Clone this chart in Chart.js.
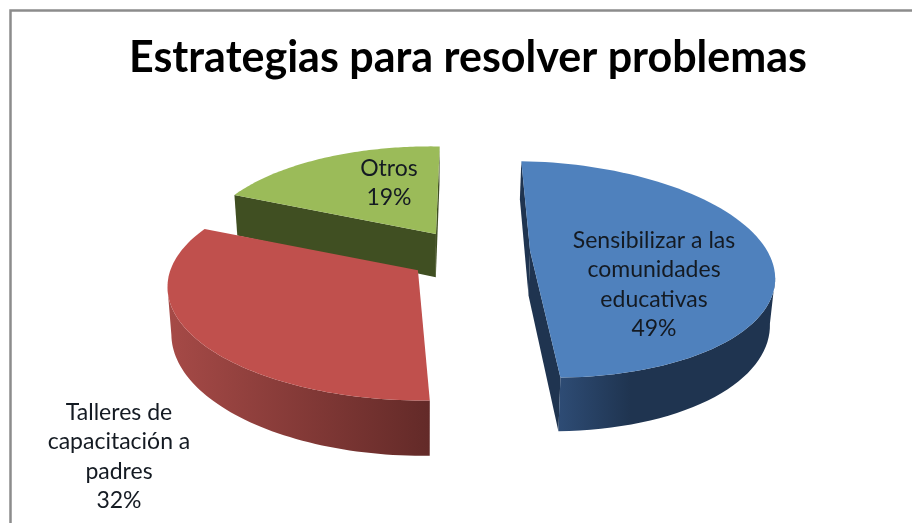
<!DOCTYPE html>
<html>
<head>
<meta charset="utf-8">
<style>
  html, body { margin: 0; background: #fff; }
  canvas { display: block; }
</style>
<script src="https://cdn.jsdelivr.net/npm/chart.js@4"></script>
</head>
<body>
<canvas id="pie-chart" width="912" height="523"></canvas>
<script>
const chartTitle = "Estrategias para resolver problemas";
const categories = [
  ["Sensibilizar a las", "comunidades", "educativas"],
  ["Talleres de", "capacitación a", "padres"],
  ["Otros"]
];
const values = [49, 32, 19];
const topColors = ["#4f81bd", "#c0504d", "#9bbb59"];
const sideColors = [
  ["#2e4c75", "#1f3450", "#1f3450", "#1f3450"],
  ["#a64a47", "#632a28"],
  ["#404f22", "#404f22"]
];
const labelCenters = [[654, 248], [119, 420], [389, 176]];

// slice placement on the ground plane, in pie radii
const sliceShift = [[0.29, 0], [-0.167, 0.17], [-0.093, -0.16]];
const sliceWidth = [0.968, 0.98, 0.98];
const sliceDepth = [0.96, 0.93, 0.99];
const sliceSkew = [0.01, 0.025, 0.015];

// camera of the fake 3d view
const view = { x: 425, y: 251, a: 245, d: 109.5, p: 0.177, shiftX: 0.139, height: 44.5, shrink: 0.985 };

function project(x, z) {
  const s = 1 / (1 - view.p * z);
  return { x: view.x + view.a * x * s, y: view.y + view.d * z * s, s: s };
}

function under(pt) {
  return { x: view.x + (pt.x - view.x) * view.shrink, y: pt.y + view.height * pt.s };
}

function fillPath(ctx, pts, fill) {
  ctx.beginPath();
  pts.forEach((pt, i) => i ? ctx.lineTo(pt.x, pt.y) : ctx.moveTo(pt.x, pt.y));
  ctx.closePath();
  ctx.fillStyle = fill;
  ctx.fill();
}

function sideFill(ctx, pts, stops) {
  const xs = pts.map(pt => pt.x);
  const g = ctx.createLinearGradient(Math.min(...xs), 0, Math.max(...xs), 0);
  stops.forEach((c, n) => g.addColorStop(n / (stops.length - 1), c));
  return g;
}

function drawSlice(ctx, arc, i) {
  const props = arc.getProps(["startAngle", "endAngle"], true);
  const cx = view.shiftX + sliceShift[i][0];
  const cz = sliceShift[i][1];
  const apex = project(cx, cz);

  const rim = [];
  for (let n = 0; n <= 80; n++) {
    const t = props.startAngle + (props.endAngle - props.startAngle) * n / 80;
    const w = sliceWidth[i] * Math.cos(t);
    const h = sliceDepth[i] * Math.sin(t);
    rim.push(project(cx + w + sliceSkew[i] * h, cz + h));
  }

  // radial walls, only when they face the viewer
  const last = rim[rim.length - 1];
  [[apex, rim[0]], [last, apex]].forEach(edge => {
    if (edge[1].x < edge[0].x) {
      const wall = [edge[0], edge[1], under(edge[1]), under(edge[0])];
      fillPath(ctx, wall, sideColors[i][sideColors[i].length - 1]);
    }
  });

  // outer wall
  const front = rim.filter((pt, n) => (n > 0 && pt.x < rim[n - 1].x) || (n < 80 && rim[n + 1].x < pt.x));
  if (front.length > 1) {
    const wall = front.concat(front.map(under).reverse());
    fillPath(ctx, wall, sideFill(ctx, wall, sideColors[i]));
  }

  fillPath(ctx, [apex].concat(rim), topColors[i]);
}

const pie3d = {
  id: "pie3d",
  beforeDraw(chart) {
    // frame of the chart area, cut by the picture on the right and bottom
    const ctx = chart.ctx;
    ctx.save();
    ctx.strokeStyle = "#8c8c8c";
    ctx.lineWidth = 2.5;
    ctx.beginPath();
    ctx.moveTo(10.5, 523);
    ctx.lineTo(10.5, 10.5);
    ctx.lineTo(912, 10.5);
    ctx.stroke();
    ctx.restore();
  },
  beforeDatasetDraw(chart) {
    const ctx = chart.ctx;
    const arcs = chart.getDatasetMeta(0).data;
    ctx.save();
    for (let i = arcs.length - 1; i >= 0; i--) {
      drawSlice(ctx, arcs[i], i);
    }
    ctx.restore();
    return false;
  },
  afterDatasetsDraw(chart) {
    const ctx = chart.ctx;
    ctx.save();
    ctx.font = "23px Lato";
    ctx.fillStyle = "#141a22";
    ctx.textAlign = "center";
    categories.forEach((lines, i) => {
      const all = lines.concat(values[i] + "%");
      all.forEach((line, n) => {
        ctx.fillText(line, labelCenters[i][0], labelCenters[i][1] + n * 29.4);
      });
    });
    ctx.restore();
  }
};

new Chart(document.getElementById("pie-chart"), {
  type: "pie",
  data: {
    labels: categories.map(c => c.join(" ")),
    datasets: [{ data: values, backgroundColor: topColors, borderWidth: 0 }]
  },
  options: {
    responsive: false,
    animation: false,
    rotation: 2.4,
    layout: { padding: { left: 24 } },
    plugins: {
      legend: { display: false },
      tooltip: { enabled: false },
      title: {
        display: true,
        text: chartTitle,
        color: "#000",
        font: { family: "Lato", size: 43, weight: "bold" },
        padding: { top: 32, bottom: 10 }
      }
    }
  },
  plugins: [pie3d]
});
</script>
</body>
</html>
